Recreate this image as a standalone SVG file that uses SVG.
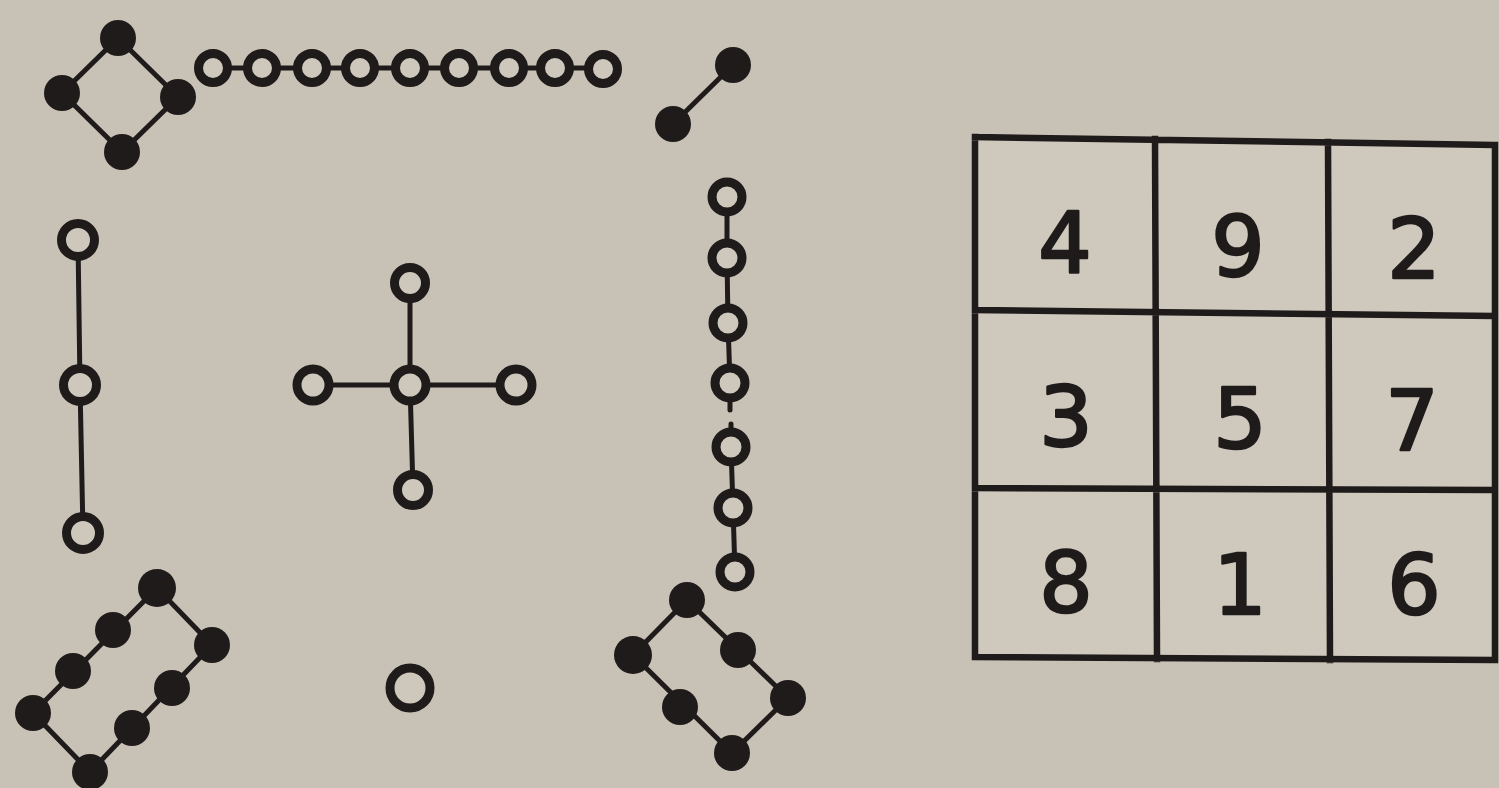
<svg xmlns="http://www.w3.org/2000/svg" width="1499" height="788" viewBox="0 0 1499 788">
<style>
.ln{stroke:#1f1b1b;stroke-width:5;fill:none;stroke-linecap:round}
.b{fill:#1f1b1b}
.w{fill:#cdc7bc;stroke:#1f1b1b;stroke-width:9}
.g{stroke:#1f1b1b;stroke-width:6.5;fill:none;stroke-linecap:square}
.n{font-family:"DejaVu Sans","Liberation Sans",sans-serif;font-size:84px;fill:#1f1b1b;stroke:#1f1b1b;stroke-width:2.5;stroke-linejoin:round;text-anchor:middle}
</style>
<rect width="1499" height="788" fill="#c8c1b5"/>
<g id="connectors">
<polygon class="ln" points="118,38 178,97 122,152 62,93"/>
<line class="ln" x1="213" y1="68" x2="603" y2="68"/>
<line class="ln" x1="733" y1="65" x2="673" y2="124"/>
<line class="ln" x1="78" y1="240" x2="80" y2="385"/>
<line class="ln" x1="80" y1="385" x2="83" y2="533"/>
<line class="ln" x1="410" y1="283" x2="410" y2="385"/>
<line class="ln" x1="410" y1="385" x2="413" y2="490"/>
<line class="ln" x1="313" y1="385" x2="516" y2="385"/>
<polyline class="ln" points="727,197 727,258 728,323 730,383 730,410"/>
<polyline class="ln" points="731,424 731,447 733,508 735,572"/>
<polygon class="ln" points="157,588 33,713 90,772 212,645"/>
<polygon class="ln" points="687,600 788,698 732,753 633,655"/>
</g>
<g id="node-4">
<circle class="b" cx="118" cy="38" r="18"/><circle class="b" cx="178" cy="97" r="18"/>
<circle class="b" cx="122" cy="152" r="18"/><circle class="b" cx="62" cy="93" r="18"/>
</g>
<g id="node-9">
<circle class="w" cx="213" cy="68" r="14.5"/><circle class="w" cx="262" cy="68" r="14.5"/>
<circle class="w" cx="312" cy="68" r="14.5"/><circle class="w" cx="360" cy="68" r="14.5"/>
<circle class="w" cx="410" cy="68" r="14.5"/><circle class="w" cx="459" cy="68" r="14.5"/>
<circle class="w" cx="509" cy="68" r="14.5"/><circle class="w" cx="555" cy="68" r="14.5"/>
<circle class="w" cx="603" cy="69" r="14.5"/>
</g>
<g id="node-2">
<circle class="b" cx="733" cy="65" r="18"/><circle class="b" cx="673" cy="124" r="18"/>
</g>
<g id="node-3">
<circle class="w" cx="78" cy="240" r="16.5"/><circle class="w" cx="80" cy="385" r="16.5"/>
<circle class="w" cx="83" cy="533" r="16.5"/>
</g>
<g id="node-5">
<circle class="w" cx="410" cy="283" r="15.5"/><circle class="w" cx="410" cy="385" r="16"/>
<circle class="w" cx="413" cy="490" r="15.5"/><circle class="w" cx="313" cy="385" r="16"/>
<circle class="w" cx="516" cy="385" r="16"/>
</g>
<g id="node-7">
<circle class="w" cx="727" cy="197" r="15"/><circle class="w" cx="727" cy="258" r="15"/>
<circle class="w" cx="728" cy="323" r="15"/><circle class="w" cx="730" cy="383" r="15"/>
<circle class="w" cx="731" cy="447" r="15"/><circle class="w" cx="733" cy="508" r="15"/>
<circle class="w" cx="735" cy="572" r="15"/>
</g>
<g id="node-8">
<circle class="b" cx="157" cy="588" r="19"/><circle class="b" cx="113" cy="630" r="18"/>
<circle class="b" cx="73" cy="671" r="18"/><circle class="b" cx="33" cy="713" r="18"/>
<circle class="b" cx="90" cy="772" r="18"/><circle class="b" cx="132" cy="728" r="18"/>
<circle class="b" cx="172" cy="688" r="18"/><circle class="b" cx="212" cy="645" r="18"/>
</g>
<g id="node-1">
<circle class="w" cx="410" cy="688" r="20" stroke-width="9"/>
</g>
<g id="node-6">
<circle class="b" cx="687" cy="600" r="18"/><circle class="b" cx="738" cy="650" r="18"/>
<circle class="b" cx="788" cy="698" r="18"/><circle class="b" cx="732" cy="753" r="18"/>
<circle class="b" cx="680" cy="707" r="18"/><circle class="b" cx="633" cy="655" r="19"/>
</g>
<g id="magic-square">
<polygon points="975,137 1495,145 1495,660 975,657" fill="#cec8bd"/>
<path class="g" d="M975,137 L1495,145 M975,310 L1495,316 M975,488 L1495,490 M975,657 L1495,660 M975,137 L975,657 M1155,139 L1157,659 M1328,142 L1330,660 M1495,145 L1495,660"/>
<text class="n" x="1065" y="272">4</text>
<text class="n" x="1238" y="276">9</text>
<text class="n" x="1414" y="278">2</text>
<text class="n" x="1066" y="446">3</text>
<text class="n" x="1240" y="448">5</text>
<text class="n" x="1412" y="450">7</text>
<text class="n" x="1066" y="612">8</text>
<text class="n" x="1240" y="614">1</text>
<text class="n" x="1414" y="614">6</text>
</g>
</svg>
